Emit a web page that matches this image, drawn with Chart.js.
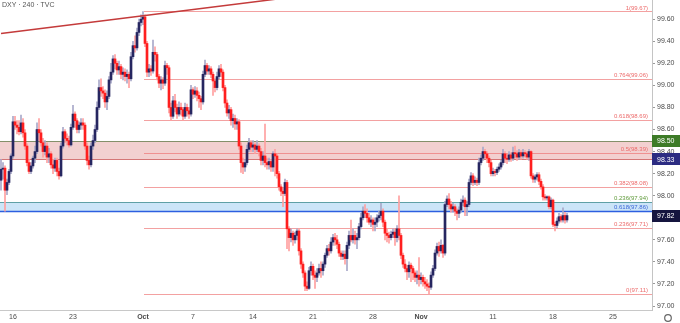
<!DOCTYPE html>
<html>
<head>
<meta charset="utf-8">
<style>
  html, body { margin: 0; padding: 0; background: #ffffff; }
  #wrap { width: 680px; height: 323px; }
</style>
<script src="https://cdn.jsdelivr.net/npm/chart.js@4.4.0/dist/chart.umd.min.js"></script>
</head>
<body>
<div id="wrap"><canvas id="dxyChart" width="680" height="323"></canvas></div>
<script>
// DXY 240 candles, Sep 13 -> Nov 19
const opens = [
  98.14, 98.24, 98.25, 98.05, 98.12, 98.22, 98.36, 98.67, 98.64, 98.62,
  98.58, 98.66, 98.57, 98.45, 98.30, 98.22, 98.27, 98.34, 98.40, 98.60,
  98.57, 98.48, 98.40, 98.45, 98.35, 98.38, 98.28, 98.25, 98.32, 98.22,
  98.18, 98.45, 98.58, 98.52, 98.50, 98.46, 98.62, 98.74, 98.68, 98.60,
  98.64, 98.66, 98.64, 98.45, 98.32, 98.28, 98.45, 98.50, 98.60, 98.80,
  98.98, 98.95, 98.93, 98.85, 98.90, 99.05, 99.12, 99.24, 99.20, 99.14,
  99.17, 99.10, 99.12, 99.08, 99.10, 99.06, 99.26, 99.36, 99.34, 99.48,
  99.57, 99.60, 99.62, 99.38, 99.12, 99.15, 99.13, 99.30, 99.28, 99.08,
  99.02, 99.05, 99.02, 99.18, 99.16, 98.80, 98.72, 98.86, 98.80, 98.74,
  98.80, 98.78, 98.72, 98.80, 98.77, 98.74, 98.96, 98.92, 98.95, 98.91,
  98.88, 98.85, 99.10, 99.18, 99.13, 99.15, 99.10, 99.04, 98.98, 99.08,
  99.15, 99.12, 98.98, 98.84, 98.75, 98.78, 98.68, 98.70, 98.65, 98.67,
  98.45, 98.30, 98.26, 98.30, 98.42, 98.48, 98.44, 98.46, 98.42, 98.45,
  98.40, 98.32, 98.36, 98.30, 98.28, 98.31, 98.26, 98.38, 98.36, 98.20,
  98.08, 98.04, 98.02, 98.12, 97.70, 97.62, 97.66, 97.60, 97.64, 97.68,
  97.50, 97.38, 97.30, 97.18, 97.16, 97.32, 97.36, 97.28, 97.26, 97.30,
  97.34, 97.32, 97.38, 97.46, 97.52, 97.50, 97.58, 97.62, 97.60, 97.56,
  97.48, 97.45, 97.47, 97.43, 97.55, 97.64, 97.60, 97.64, 97.60, 97.62,
  97.72, 97.80, 97.86, 97.84, 97.80, 97.76, 97.78, 97.74, 97.76, 97.80,
  97.82, 97.86, 97.76, 97.66, 97.64, 97.62, 97.65, 97.67, 97.62, 97.70,
  97.64, 97.46, 97.38, 97.34, 97.31, 97.37, 97.34, 97.30, 97.26, 97.28,
  97.24, 97.26, 97.22, 97.20, 97.18, 97.17, 97.28, 97.34, 97.48, 97.54,
  97.50, 97.55, 97.48, 97.92, 97.97, 97.92, 97.88, 97.90, 97.86, 97.84,
  97.87, 97.94, 97.96, 97.90, 97.92, 98.12, 98.18, 98.12, 98.14, 98.12,
  98.30, 98.34, 98.40, 98.38, 98.34, 98.30, 98.20, 98.22, 98.21, 98.24,
  98.26, 98.30, 98.38, 98.34, 98.33, 98.37, 98.34, 98.39, 98.38, 98.35,
  98.39, 98.36, 98.39, 98.38, 98.35, 98.40, 98.18, 98.15, 98.17, 98.19,
  98.13, 98.08, 97.99, 97.98, 97.99, 97.90, 97.96, 97.74, 97.73, 97.77,
  97.81, 97.78, 97.82, 97.78
];
const highs = [
  98.33, 98.30, 98.27, 98.15, 98.24, 98.38, 98.72, 98.72, 98.68, 98.68,
  98.73, 98.70, 98.60, 98.47, 98.33, 98.30, 98.36, 98.45, 98.66, 98.70,
  98.60, 98.52, 98.50, 98.48, 98.43, 98.40, 98.33, 98.34, 98.34, 98.25,
  98.48, 98.62, 98.60, 98.56, 98.54, 98.65, 98.82, 98.76, 98.70, 98.67,
  98.70, 98.70, 98.66, 98.48, 98.36, 98.48, 98.55, 98.64, 98.85, 99.05,
  99.06, 98.99, 98.96, 98.95, 99.08, 99.20, 99.27, 99.28, 99.22, 99.22,
  99.19, 99.16, 99.15, 99.14, 99.12, 99.30, 99.40, 99.45, 99.52, 99.60,
  99.64, 99.67, 99.64, 99.40, 99.19, 99.18, 99.41, 99.35, 99.30, 99.10,
  99.08, 99.07, 99.22, 99.20, 99.18, 98.84, 98.90, 98.92, 98.83, 98.85,
  98.84, 98.80, 98.84, 98.83, 98.80, 99.00, 98.98, 98.99, 98.98, 98.94,
  98.90, 99.13, 99.23, 99.20, 99.18, 99.17, 99.12, 99.06, 99.12, 99.18,
  99.19, 99.14, 99.00, 98.87, 98.82, 98.80, 98.74, 98.73, 98.70, 98.69,
  98.48, 98.34, 98.33, 98.46, 98.52, 98.50, 98.50, 98.48, 98.50, 98.47,
  98.43, 98.40, 98.65, 98.34, 98.34, 98.33, 98.40, 98.42, 98.38, 98.22,
  98.10, 98.07, 98.15, 98.14, 97.72, 97.70, 97.68, 97.67, 97.70, 97.70,
  97.52, 97.40, 97.32, 97.22, 97.35, 97.40, 97.38, 97.32, 97.34, 97.38,
  97.40, 97.40, 97.48, 97.55, 97.56, 97.62, 97.65, 97.66, 97.64, 97.58,
  97.50, 97.50, 97.50, 97.58, 97.68, 97.78, 97.70, 97.68, 97.66, 97.75,
  97.84, 97.90, 97.92, 97.88, 97.84, 97.82, 97.80, 97.80, 97.83, 97.86,
  97.93, 97.88, 97.78, 97.70, 97.67, 97.68, 97.70, 97.70, 97.73, 98.00,
  97.66, 97.48, 97.42, 97.37, 97.40, 97.39, 97.36, 97.32, 97.32, 97.44,
  97.30, 97.28, 97.26, 97.24, 97.21, 97.31, 97.37, 97.51, 97.57, 97.58,
  97.60, 97.56, 97.95, 98.00, 98.02, 97.95, 97.93, 97.92, 97.88, 97.90,
  97.97, 98.00, 97.98, 97.95, 98.15, 98.21, 98.20, 98.17, 98.16, 98.34,
  98.37, 98.44, 98.42, 98.40, 98.36, 98.32, 98.25, 98.24, 98.26, 98.29,
  98.32, 98.42, 98.40, 98.38, 98.40, 98.39, 98.44, 98.45, 98.41, 98.42,
  98.41, 98.42, 98.41, 98.40, 98.42, 98.41, 98.20, 98.19, 98.21, 98.21,
  98.15, 98.10, 98.01, 98.00, 98.00, 97.98, 97.97, 97.76, 97.80, 97.84,
  97.83, 97.89, 97.85, 97.84
];
const lows = [
  98.05, 98.15, 97.86, 98.01, 98.10, 98.20, 98.34, 98.60, 98.56, 98.55,
  98.56, 98.53, 98.42, 98.27, 98.20, 98.20, 98.25, 98.30, 98.38, 98.50,
  98.45, 98.35, 98.37, 98.30, 98.30, 98.25, 98.20, 98.22, 98.18, 98.15,
  98.17, 98.43, 98.48, 98.46, 98.44, 98.45, 98.60, 98.62, 98.57, 98.57,
  98.60, 98.60, 98.42, 98.28, 98.24, 98.26, 98.42, 98.48, 98.58, 98.78,
  98.90, 98.88, 98.80, 98.78, 98.88, 99.02, 99.10, 99.15, 99.10, 99.10,
  99.06, 99.05, 99.04, 99.02, 98.98, 99.04, 99.24, 99.30, 99.32, 99.45,
  99.54, 99.55, 99.35, 99.08, 99.08, 99.09, 99.11, 99.22, 99.05, 98.98,
  98.96, 98.97, 99.00, 99.10, 98.75, 98.68, 98.70, 98.76, 98.70, 98.72,
  98.73, 98.68, 98.70, 98.72, 98.70, 98.72, 98.88, 98.89, 98.86, 98.80,
  98.78, 98.83, 99.08, 99.10, 99.10, 99.07, 98.91, 98.94, 98.96, 99.06,
  99.08, 98.95, 98.80, 98.72, 98.70, 98.64, 98.62, 98.60, 98.60, 98.42,
  98.21, 98.20, 98.22, 98.28, 98.40, 98.40, 98.40, 98.38, 98.40, 98.36,
  98.28, 98.28, 98.26, 98.24, 98.24, 98.22, 98.22, 98.18, 98.16, 98.05,
  98.00, 97.90, 98.00, 97.52, 97.50, 97.58, 97.55, 97.57, 97.60, 97.46,
  97.34, 97.26, 97.14, 97.14, 97.15, 97.28, 97.24, 97.16, 97.22, 97.28,
  97.26, 97.28, 97.35, 97.44, 97.46, 97.48, 97.55, 97.55, 97.52, 97.45,
  97.42, 97.42, 97.38, 97.32, 97.52, 97.58, 97.57, 97.56, 97.52, 97.60,
  97.70, 97.78, 97.80, 97.76, 97.74, 97.72, 97.68, 97.68, 97.72, 97.77,
  97.78, 97.72, 97.60, 97.58, 97.57, 97.60, 97.62, 97.55, 97.58, 97.60,
  97.43, 97.35, 97.31, 97.24, 97.26, 97.22, 97.24, 97.22, 97.20, 97.18,
  97.20, 97.18, 97.16, 97.14, 97.11, 97.15, 97.26, 97.32, 97.46, 97.45,
  97.48, 97.44, 97.46, 97.90, 97.88, 97.85, 97.85, 97.82, 97.78, 97.80,
  97.85, 97.91, 97.82, 97.82, 97.90, 98.10, 98.09, 98.10, 98.09, 98.10,
  98.28, 98.32, 98.34, 98.30, 98.26, 98.18, 98.18, 98.18, 98.19, 98.22,
  98.24, 98.28, 98.30, 98.29, 98.31, 98.31, 98.32, 98.34, 98.32, 98.33,
  98.33, 98.34, 98.35, 98.33, 98.32, 98.16, 98.12, 98.12, 98.14, 98.10,
  98.06, 97.96, 97.96, 97.96, 97.88, 97.88, 97.72, 97.68, 97.71, 97.75,
  97.76, 97.76, 97.75, 97.76
];
const closes = [
  98.24, 98.25, 98.05, 98.12, 98.22, 98.36, 98.67, 98.64, 98.62, 98.58,
  98.66, 98.57, 98.45, 98.30, 98.22, 98.27, 98.34, 98.40, 98.60, 98.57,
  98.48, 98.40, 98.45, 98.35, 98.38, 98.28, 98.25, 98.32, 98.22, 98.18,
  98.45, 98.58, 98.52, 98.50, 98.46, 98.62, 98.74, 98.68, 98.60, 98.64,
  98.66, 98.64, 98.45, 98.32, 98.28, 98.45, 98.50, 98.60, 98.80, 98.98,
  98.95, 98.93, 98.85, 98.90, 99.05, 99.12, 99.24, 99.20, 99.14, 99.17,
  99.10, 99.12, 99.08, 99.10, 99.06, 99.26, 99.36, 99.34, 99.48, 99.57,
  99.60, 99.62, 99.38, 99.12, 99.15, 99.13, 99.30, 99.28, 99.08, 99.02,
  99.05, 99.02, 99.18, 99.16, 98.80, 98.72, 98.86, 98.80, 98.74, 98.80,
  98.78, 98.72, 98.80, 98.77, 98.74, 98.96, 98.92, 98.95, 98.91, 98.88,
  98.85, 99.10, 99.18, 99.13, 99.15, 99.10, 99.04, 98.98, 99.08, 99.15,
  99.12, 98.98, 98.84, 98.75, 98.78, 98.68, 98.70, 98.65, 98.67, 98.45,
  98.30, 98.26, 98.30, 98.42, 98.48, 98.44, 98.46, 98.42, 98.45, 98.40,
  98.32, 98.36, 98.30, 98.28, 98.31, 98.26, 98.38, 98.36, 98.20, 98.08,
  98.04, 98.02, 98.12, 97.70, 97.62, 97.66, 97.60, 97.64, 97.68, 97.50,
  97.38, 97.30, 97.18, 97.16, 97.32, 97.36, 97.28, 97.26, 97.30, 97.34,
  97.32, 97.38, 97.46, 97.52, 97.50, 97.58, 97.62, 97.60, 97.56, 97.48,
  97.45, 97.47, 97.43, 97.55, 97.64, 97.60, 97.64, 97.60, 97.62, 97.72,
  97.80, 97.86, 97.84, 97.80, 97.76, 97.78, 97.74, 97.76, 97.80, 97.82,
  97.86, 97.76, 97.66, 97.64, 97.62, 97.65, 97.67, 97.62, 97.70, 97.64,
  97.46, 97.38, 97.34, 97.31, 97.37, 97.34, 97.30, 97.26, 97.28, 97.24,
  97.26, 97.22, 97.20, 97.18, 97.17, 97.28, 97.34, 97.48, 97.54, 97.50,
  97.55, 97.48, 97.92, 97.97, 97.92, 97.88, 97.90, 97.86, 97.84, 97.87,
  97.94, 97.96, 97.90, 97.92, 98.12, 98.18, 98.12, 98.14, 98.12, 98.30,
  98.34, 98.40, 98.38, 98.34, 98.30, 98.20, 98.22, 98.21, 98.24, 98.26,
  98.30, 98.38, 98.34, 98.33, 98.37, 98.34, 98.39, 98.38, 98.35, 98.39,
  98.36, 98.39, 98.38, 98.35, 98.40, 98.18, 98.15, 98.17, 98.19, 98.13,
  98.08, 97.99, 97.98, 97.99, 97.90, 97.96, 97.74, 97.73, 97.77, 97.81,
  97.78, 97.82, 97.78, 97.82
];

// time axis: 6 bars per trading day, room left for the rest of November
const barSlots = 326;
const tickBars = [6, 36, 71, 96, 126, 156, 186, 210, 246, 276, 306];
const tickText = ['16', '23', 'Oct', '7', '14', '21', '28', 'Nov', '11', '18', '25'];
const monthTicks = ['Oct', 'Nov'];

// fibonacci retracement off the Oct 1 high
const fibLevels = ['1', '0.764', '0.618', '0.5', '0.382', '0.236', '0'];
const fibPrices = [99.67, 99.06, 98.69, 98.39, 98.08, 97.71, 97.11];
const fibStartBar = 71;

// support / resistance zones
const redZone = [98.33, 98.50];
const blueZone = [97.86, 97.94];
const zoneFibLevels = ['0.236', '0.618'];
const zoneFibPrices = [97.94, 97.86];

// trendline across the tops
const trendBars = [0, 150];
const trendPrices = [99.47, 99.81];

// price tags on the right axis
const axisTags = [98.50, 98.33, 97.82];
const axisTagColors = ['#3d7b27', '#2c2c82', '#15153f'];

const UP_BODY = '#262660', DOWN_BODY = '#ff1f1f';
const UP_WICK = '#a9a9c9', DOWN_WICK = '#ffa0a0';
const FONT = '"Liberation Sans", Arial, sans-serif';

const isUp = i => closes[i] >= opens[i];

const overlays = {
  id: 'overlays',
  beforeDatasetsDraw(chart) {
    const { ctx, chartArea: a, scales: { x, y } } = chart;
    const py = v => Math.round(y.getPixelForValue(v)) + 0.5;
    ctx.save();
    ctx.beginPath();
    ctx.rect(a.left, a.top, a.width, a.height);
    ctx.clip();

    // zones
    ctx.fillStyle = 'rgba(214,110,110,0.32)';
    ctx.fillRect(a.left, py(redZone[1]), a.width, py(redZone[0]) - py(redZone[1]));
    ctx.fillStyle = 'rgba(110,180,235,0.35)';
    ctx.fillRect(a.left, py(blueZone[1]), a.width, py(blueZone[0]) - py(blueZone[1]));

    const hline = (v, color, w, x0) => {
      ctx.strokeStyle = color;
      ctx.lineWidth = w;
      ctx.beginPath();
      ctx.moveTo(x0, py(v));
      ctx.lineTo(a.right, py(v));
      ctx.stroke();
    };
    hline(redZone[0], 'rgba(200,80,80,0.75)', 1, a.left);
    hline(redZone[1], '#84906a', 1, a.left);
    hline(zoneFibPrices[0], '#5fa0a6', 1, a.left);
    hline(zoneFibPrices[1], '#2d5fe0', 1.5, a.left);

    const fx = Math.round(x.getPixelForValue(fibStartBar)) + 1;
    fibPrices.forEach(p => hline(p, 'rgba(236,110,110,0.65)', 1, fx));
    ctx.restore();
  },
  afterDatasetsDraw(chart) {
    const { ctx, chartArea: a, scales: { y } } = chart;
    ctx.save();
    ctx.font = '6px ' + FONT;
    ctx.textAlign = 'right';
    ctx.textBaseline = 'bottom';
    ctx.fillStyle = '#ec6b6b';
    fibPrices.forEach((p, i) => {
      ctx.fillText(fibLevels[i] + '(' + p.toFixed(2) + ')', a.right - 4, y.getPixelForValue(p) - 0.5);
    });
    const zoneColors = ['#5f9a3a', '#3b66d8'];
    zoneFibPrices.forEach((p, i) => {
      ctx.fillStyle = zoneColors[i];
      ctx.fillText(zoneFibLevels[i] + '(' + p.toFixed(2) + ')', a.right - 4, y.getPixelForValue(p) - 0.5);
    });
    ctx.restore();
  },
  afterDraw(chart) {
    const { ctx, chartArea: a, scales: { y } } = chart;
    ctx.save();
    // symbol header
    ctx.font = '7px ' + FONT;
    ctx.fillStyle = '#555';
    ctx.textAlign = 'left';
    ctx.textBaseline = 'middle';
    ctx.fillText('DXY · 240 · TVC', 2, 5);

    // axis price tags
    axisTags.forEach((p, i) => {
      const cy = y.getPixelForValue(p);
      ctx.fillStyle = axisTagColors[i];
      ctx.fillRect(a.right, Math.round(cy - 6), chart.width - a.right, 12);
      ctx.fillStyle = '#fff';
      ctx.fillText(p.toFixed(2), a.right + 5, cy + 0.5);
    });

    // settings glyph in the corner
    ctx.strokeStyle = '#666';
    ctx.lineWidth = 1.2;
    ctx.beginPath();
    ctx.arc(668, 318, 3.3, 0, Math.PI * 2);
    ctx.stroke();
    ctx.restore();
  }
};

const ctx = document.getElementById('dxyChart').getContext('2d');
const chart = new Chart(ctx, {
  type: 'bar',
  data: {
    labels: Array.from({ length: barSlots }, (_, i) => i),
    datasets: [
      {
        label: 'trend',
        type: 'line',
        data: trendBars.map((b, i) => ({ x: b, y: trendPrices[i] })),
        borderColor: '#c43b3b',
        borderWidth: 1.5,
        pointRadius: 0,
        order: 0
      },
      {
        label: 'bodies',
        data: opens.map((o, i) => [o, closes[i]]),
        backgroundColor: c => isUp(c.dataIndex) ? UP_BODY : DOWN_BODY,
        barThickness: 2,
        minBarLength: 1,
        grouped: false,
        borderWidth: 0,
        order: 1
      },
      {
        label: 'wicks',
        data: lows.map((l, i) => [l, highs[i]]),
        backgroundColor: c => isUp(c.dataIndex) ? UP_WICK : DOWN_WICK,
        barThickness: 1,
        grouped: false,
        borderWidth: 0,
        order: 2
      }
    ]
  },
  options: {
    responsive: false,
    devicePixelRatio: 1,
    animation: false,
    events: [],
    layout: { padding: 0 },
    plugins: { legend: { display: false }, tooltip: { enabled: false } },
    scales: {
      x: {
        offset: true,
        grid: { display: false, drawTicks: false },
        border: { display: true, color: '#c8c8c8' },
        ticks: {
          autoSkip: false,
          maxRotation: 0,
          padding: 3,
          color: '#4a4a4a',
          font: c => ({
            family: FONT,
            size: 7,
            weight: monthTicks.includes(c.tick && c.tick.label) ? 'bold' : 'normal'
          }),
          callback: (v, i) => {
            const k = tickBars.indexOf(i);
            return k >= 0 ? tickText[k] : null;
          }
        },
        afterFit: s => { s.height = 13; s.paddingLeft = 0; s.paddingRight = 0; }
      },
      y: {
        position: 'right',
        min: 96.964,
        max: 99.774,
        grid: { drawOnChartArea: false, tickLength: 3, color: '#9a9a9a' },
        border: { display: true, color: '#c4c4c4' },
        ticks: {
          stepSize: 0.2,
          includeBounds: false,
          padding: 2,
          color: '#4a4a4a',
          font: { family: FONT, size: 7 },
          callback: v => v.toFixed(2)
        },
        afterFit: s => { s.width = 28; s.paddingTop = 0; s.paddingBottom = 0; }
      }
    }
  },
  plugins: [overlays]
});
</script>
</body>
</html>
